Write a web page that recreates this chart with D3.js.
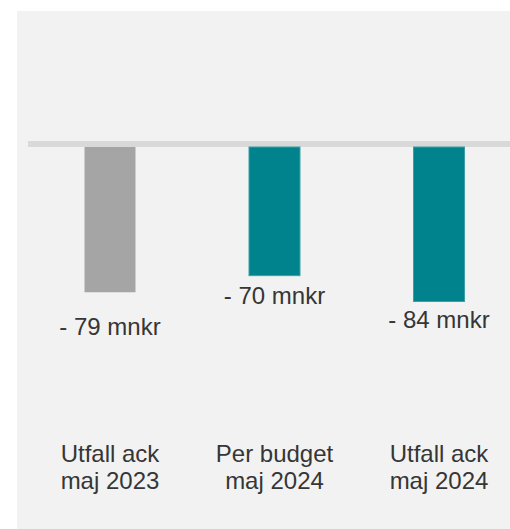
<!DOCTYPE html>
<html>
<head>
<meta charset="utf-8">
<script src="https://cdn.jsdelivr.net/npm/d3@7"></script>
<style>
  html, body { margin: 0; padding: 0; background: #ffffff; }
  svg { display: block; }
  text { font-family: "Liberation Sans", Arial, sans-serif; fill: #363636; }
</style>
</head>
<body>
<script>
// Result to date (mnkr), accumulated through May
const categories = [["Utfall ack", "maj 2023"], ["Per budget", "maj 2024"], ["Utfall ack", "maj 2024"]];
const values = [-79, -70, -84];
const valueLabels = ["- 79 mnkr", "- 70 mnkr", "- 84 mnkr"];
const barColors = ["#a5a5a5", "#00838c", "#00838c"];
const barStrokes = ["none", "#3c9fa6", "#3c9fa6"];

// Layout
const W = 510, H = 529;
const labelGap = [42, 28, 26];

const svg = d3.select("body").append("svg").attr("width", W).attr("height", H);

// Panel background
svg.append("rect").attr("x", 17).attr("y", 11).attr("width", W - 17).attr("height", H - 11)
  .attr("fill", "#f2f2f2");

const ids = d3.range(categories.length);
const x = d3.scalePoint().domain(ids).range([110, 439]);
const y = d3.scaleLinear().domain([0, -100]).range([147, 331.5]);
const barW = 52;

// Zero line
svg.append("rect").attr("x", 28).attr("y", y(0) - 6).attr("width", W - 28).attr("height", 6)
  .attr("fill", "#d9d9d9");

// Bars
svg.selectAll("rect.bar").data(ids).join("rect")
  .attr("class", "bar")
  .attr("x", i => x(i) - barW / 2 + 0.5)
  .attr("y", y(0))
  .attr("width", barW - 1)
  .attr("height", i => y(values[i]) - y(0) - 0.5)
  .attr("fill", i => barColors[i])
  .attr("stroke", i => barStrokes[i])
  .attr("stroke-width", 1);

// Value labels
svg.selectAll("text.val").data(ids).join("text")
  .attr("class", "val")
  .attr("x", i => x(i))
  .attr("y", i => y(values[i]) + labelGap[i])
  .attr("text-anchor", "middle")
  .style("font-size", "24px")
  .text(i => valueLabels[i]);

// Category labels
const cat = svg.selectAll("text.cat").data(ids).join("text")
  .attr("class", "cat")
  .attr("text-anchor", "middle")
  .style("font-size", "24px");
cat.selectAll("tspan").data(i => categories[i].map(t => ({ t, i }))).join("tspan")
  .attr("x", d => x(d.i))
  .attr("y", (d, k) => 462 + k * 27)
  .text(d => d.t);
</script>
</body>
</html>
